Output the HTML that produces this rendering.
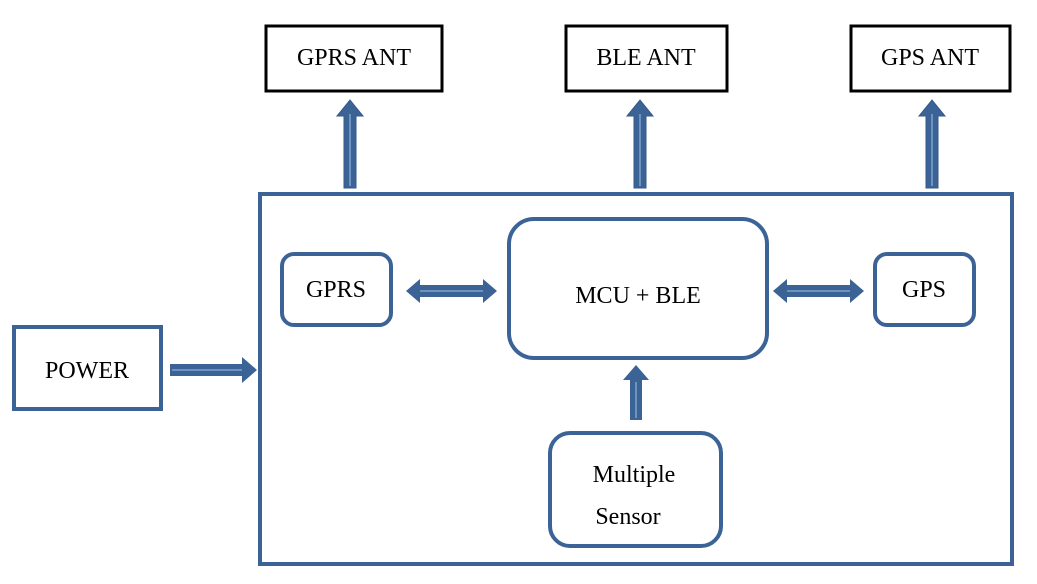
<!DOCTYPE html>
<html><head><style>body{margin:0;background:#fff}svg{display:block}text{font-family:"Liberation Serif",serif;font-size:24px;fill:#000}</style></head><body>
<svg width="1037" height="584" viewBox="0 0 1037 584">
<defs>
<g id="up"><polygon points="-6,0 -6,-72 -13,-72 0,-88 13,-72 6,-72 6,0" fill="#3c6396" stroke="#36598a" stroke-width="1"/><line x1="0" y1="-2" x2="0" y2="-74" stroke="#6f93c0" stroke-width="2"/></g>
<g id="dbl"><polygon points="0,0 14,-12 14,-6 77,-6 77,-12 91,0 77,12 77,6 14,6 14,12" fill="#3c6396"/><line x1="14" y1="0" x2="77" y2="0" stroke="#6f93c0" stroke-width="2"/></g>
</defs>
<g fill="#fff" stroke="#000" stroke-width="3">
<rect x="266" y="26" width="176" height="65"/>
<rect x="566" y="26" width="161" height="65"/>
<rect x="851" y="26" width="159" height="65"/>
</g>
<text x="354" y="65" text-anchor="middle">GPRS ANT</text>
<text x="646" y="65" text-anchor="middle">BLE ANT</text>
<text x="930" y="65" text-anchor="middle">GPS ANT</text>
<use href="#up" x="350" y="188"/>
<use href="#up" x="640" y="188"/>
<use href="#up" x="932" y="188"/>
<g fill="#fff" stroke="#3c6396" stroke-width="4">
<rect x="260" y="194" width="752" height="370"/>
<rect x="14" y="327" width="147" height="82"/>
<rect x="282" y="254" width="109" height="71" rx="12"/>
<rect x="509" y="219" width="258" height="139" rx="25"/>
<rect x="875" y="254" width="99" height="71" rx="12"/>
<rect x="550" y="433" width="171" height="113" rx="20"/>
</g>
<text x="87" y="378" text-anchor="middle">POWER</text>
<text x="336" y="297" text-anchor="middle">GPRS</text>
<text x="638" y="303" text-anchor="middle">MCU + BLE</text>
<text x="924" y="297" text-anchor="middle">GPS</text>
<text x="634" y="482" text-anchor="middle">Multiple</text>
<text x="628" y="524" text-anchor="middle">Sensor</text>
<use href="#dbl" x="406" y="291"/>
<use href="#dbl" x="773" y="291"/>
<polygon points="630,420 630,380 623,380 636,365 649,380 642,380 642,420" fill="#3c6396"/>
<line x1="636" y1="418" x2="636" y2="382" stroke="#6f93c0" stroke-width="2"/>
<polygon points="170,364 242,364 242,357 257,370 242,383 242,376 170,376" fill="#3c6396"/>
<line x1="172" y1="370" x2="242" y2="370" stroke="#6f93c0" stroke-width="2"/>
</svg>
</body></html>
